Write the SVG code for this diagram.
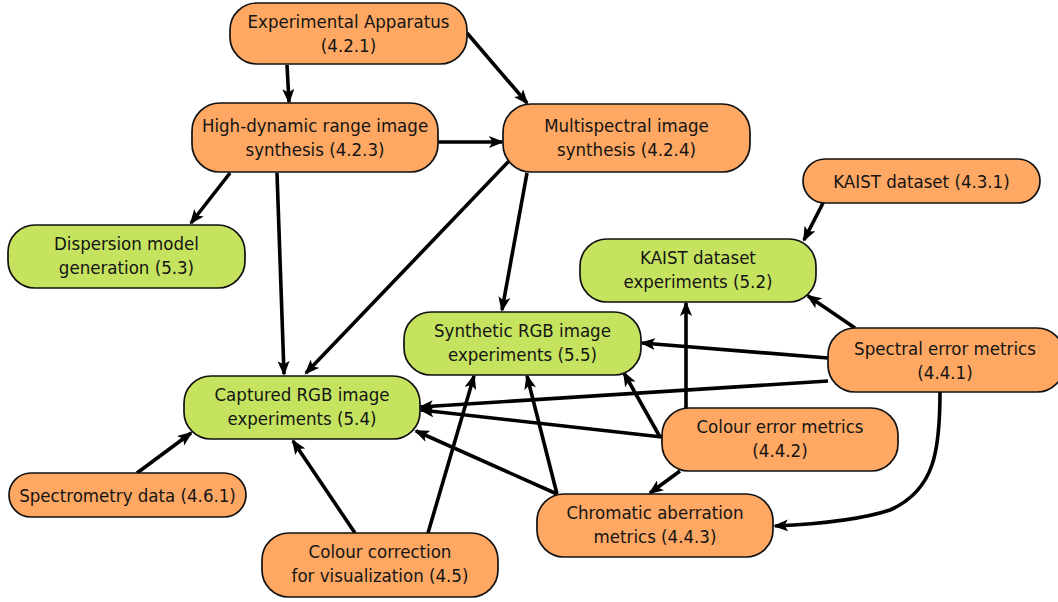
<svg xmlns="http://www.w3.org/2000/svg" width="1058" height="602" viewBox="0 0 1058 602">
<style>
.o{fill:#fea863;stroke:#111;stroke-width:1.7}
.g{fill:#c5e35f;stroke:#111;stroke-width:1.7}
text{font-family:"DejaVu Sans Condensed","DejaVu Sans",sans-serif;font-stretch:condensed;font-size:18.5px;fill:#141414;text-anchor:middle}
.e{fill:none;stroke:#000;stroke-width:3.6;marker-end:url(#ah)}
</style>
<defs>
<marker id="ah" markerUnits="userSpaceOnUse" markerWidth="16" markerHeight="12" viewBox="0 0 16 12" refX="13" refY="6" orient="auto">
<path d="M0,0 L15,6 L0,12 L3.5,6 z" fill="#000"/>
</marker>
</defs>
<rect width="1058" height="602" fill="#fff"/>
<g id="edges">
<path class="e" d="M287,65 L289,102"/>
<path class="e" d="M467,33 L527,103"/>
<path class="e" d="M438,142 L502,142"/>
<path class="e" d="M230,173 L191,223"/>
<path class="e" d="M277,173 L284,374"/>
<path class="e" d="M510,160 L306,373"/>
<path class="e" d="M527,173 L502,310"/>
<path class="e" d="M823,203 L804,240"/>
<path class="e" d="M855,328 L808,296"/>
<path class="e" d="M828,358 L642,343"/>
<path class="e" d="M828,381 L420,407"/>
<path class="e" d="M940,392 C940,450 935,490 890,510 C860,520 820,524 775,526"/>
<path class="e" d="M686,408 L686,303"/>
<path class="e" d="M662,437 L421,410"/>
<path class="e" d="M660,437 L624,373"/>
<path class="e" d="M680,471 L650,493"/>
<path class="e" d="M557,494 L416,431"/>
<path class="e" d="M557,494 L527,376"/>
<path class="e" d="M428,533 L474,376"/>
<path class="e" d="M355,533 L293,441"/>
<path class="e" d="M137,473 L191,433"/>
</g>
<g id="n421"><rect class="o" x="230" y="3" width="237" height="61" rx="27"/><text x="348.5" y="28">Experimental Apparatus</text><text x="348.5" y="52">(4.2.1)</text></g>
<g id="n423"><rect class="o" x="192" y="103" width="246" height="69" rx="28"/><text x="315" y="132">High-dynamic range image</text><text x="315" y="156">synthesis (4.2.3)</text></g>
<g id="n424"><rect class="o" x="503" y="104" width="247" height="68" rx="28"/><text x="626.5" y="132">Multispectral image</text><text x="626.5" y="156">synthesis (4.2.4)</text></g>
<g id="n431"><rect class="o" x="803" y="159" width="237" height="44" rx="22"/><text x="921.5" y="187.5">KAIST dataset (4.3.1)</text></g>
<g id="n53"><rect class="g" x="8" y="225" width="237" height="63" rx="27"/><text x="126.5" y="250">Dispersion model</text><text x="126.5" y="274">generation (5.3)</text></g>
<g id="n52"><rect class="g" x="580" y="239" width="236" height="63" rx="27"/><text x="698" y="264">KAIST dataset</text><text x="698" y="288">experiments (5.2)</text></g>
<g id="n55"><rect class="g" x="404" y="312" width="237" height="63" rx="27"/><text x="522.5" y="337">Synthetic RGB image</text><text x="522.5" y="361">experiments (5.5)</text></g>
<g id="n441"><rect class="o" x="828" y="328" width="236" height="64" rx="27"/><text x="945" y="355">Spectral error metrics</text><text x="945" y="379">(4.4.1)</text></g>
<g id="n54"><rect class="g" x="184" y="376" width="236" height="63" rx="27"/><text x="302" y="401">Captured RGB image</text><text x="302" y="425">experiments (5.4)</text></g>
<g id="n442"><rect class="o" x="662" y="408" width="236" height="63" rx="27"/><text x="780" y="433">Colour error metrics</text><text x="780" y="457">(4.4.2)</text></g>
<g id="n461"><rect class="o" x="9" y="473" width="237" height="44" rx="22"/><text x="127.5" y="501.5">Spectrometry data (4.6.1)</text></g>
<g id="n443"><rect class="o" x="537" y="494" width="236" height="63" rx="27"/><text x="655" y="519">Chromatic aberration</text><text x="655" y="543">metrics (4.4.3)</text></g>
<g id="n45"><rect class="o" x="262" y="533" width="236" height="64" rx="27"/><text x="380" y="558">Colour correction</text><text x="380" y="582">for visualization (4.5)</text></g>
</svg>
